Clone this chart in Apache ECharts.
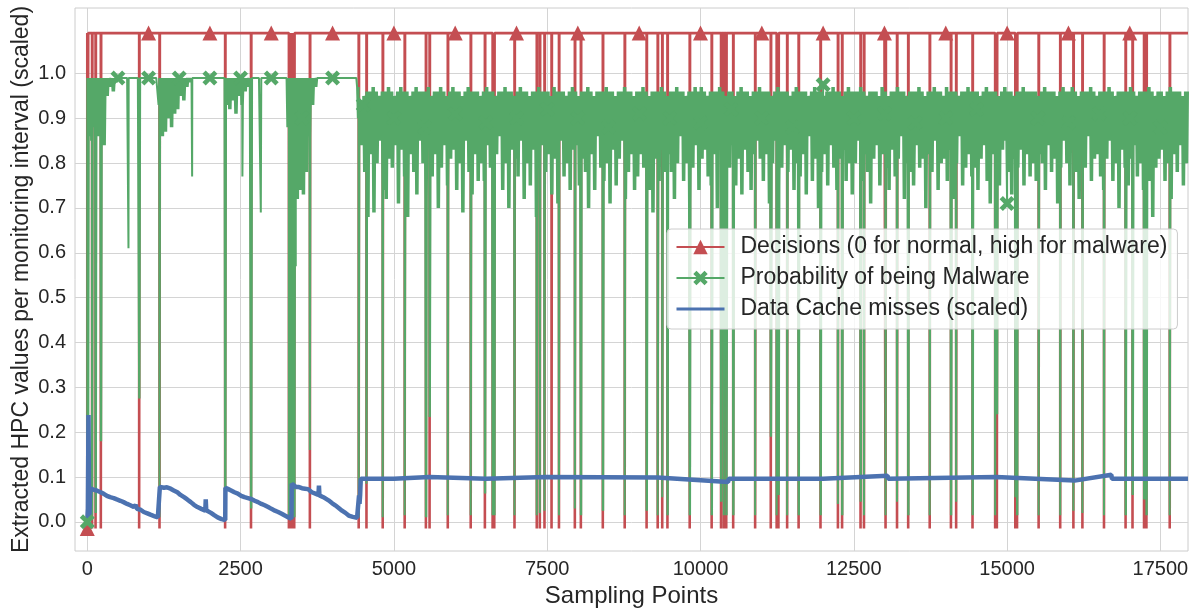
<!DOCTYPE html>
<html>
<head>
<meta charset="utf-8">
<script src="https://cdn.jsdelivr.net/npm/echarts@6/dist/echarts.min.js"></script>
<style>
  html, body { margin: 0; padding: 0; background: #ffffff; }
  #chart { width: 1195px; height: 611px; }
</style>
</head>
<body>
<div id="chart"></div>
<script>
// ---- axis ticks ----
const xTicks = [0, 2500, 5000, 7500, 10000, 12500, 15000, 17500];
const yTicks = [0.0, 0.1, 0.2, 0.3, 0.4, 0.5, 0.6, 0.7, 0.8, 0.9, 1.0];

// ---- decisions: high level, low level, and the sampling ranges flagged as normal ----
const decisionHigh = 1.09;
const decisionLow = -0.015;
const decisionDrops = [
  [0, 16], [78, 84], [135, 141], [221, 227], [846, 852], [1178, 1184], [2248, 2254], [2670, 2676],
  [3288, 3294], [3316, 3320], [3331, 3337], [3352, 3356], [3375, 3381], [3630, 3636], [4426, 4432],
  [4553, 4559], [4818, 4824], [5176, 5182], [5522, 5528], [5582, 5588], [5879, 5885], [6253, 6259],
  [6484, 6490], [6610, 6616], [6637, 6643], [6967, 6973], [7330, 7336], [7380, 7386], [7456, 7462],
  [7571, 7577], [7692, 7698], [7951, 7957], [8049, 8055], [8407, 8413], [8764, 8770], [9121, 9127],
  [9302, 9308], [9376, 9382], [9461, 9467], [9824, 9830], [10182, 10188], [10335, 10341], [10380, 10386],
  [10420, 10426], [10533, 10539], [10891, 10897], [11146, 11152], [11242, 11248], [11271, 11277],
  [11413, 11419], [11600, 11606], [11957, 11963], [12241, 12247], [12309, 12315], [12610, 12616],
  [12666, 12672], [13018, 13024], [13205, 13211], [13387, 13393], [13738, 13744], [14084, 14090],
  [14169, 14175], [14436, 14442], [14805, 14811], [14833, 14839], [15134, 15140], [15162, 15168],
  [15514, 15520], [15866, 15872], [16081, 16087], [16228, 16234], [16580, 16586], [16932, 16938],
  [17045, 17051], [17233, 17239], [17272, 17278], [17652, 17658]
];
// malware probability at the bottom of each flagged range (null: no dip drawn)
const probAtDrop = [
  0.0, 0.015, 0.02, 0.18, 0.275, 0.01, 0.01, 0.03,
  0.01, 0.02, 0.01, 0.02, 0.01, 0.16, 0.01,
  0.085, 0.01, 0.015, 0.01, 0.234, 0.015, 0.015,
  0.063, 0.015, 0.015, 0.015, 0.015, 0.02, 0.025,
  null, 0.015, 0.03, 0.015, 0.025, 0.015, 0.025,
  0.015, 0.055, 0.015, 0.015, 0.015, 0.045, 0.015,
  0.015, 0.015, 0.015, 0.19, 0.015, 0.06,
  0.015, 0.015, 0.015, 0.04, 0.015, 0.045,
  0.015, 0.015, 0.045, 0.015, 0.015, 0.015,
  0.045, 0.015, 0.015, 0.24, 0.055, 0.015,
  0.015, 0.015, 0.025, 0.02, 0.015, 0.015,
  0.06, 0.05, 0.015, 0.015
];
const decisionMarks = [
  [0, -0.015], [1000, 1.09], [2000, 1.09], [3000, 1.09], [4000, 1.09], [5000, 1.09], [6000, 1.09],
  [7000, 1.09], [8000, 1.09], [9000, 1.09], [10000, 1.09], [11000, 1.09], [12000, 1.09],
  [13000, 1.09], [14000, 1.09], [15000, 1.09], [16000, 1.09], [17000, 1.09]
];
const lastSample = 17950;

// ---- malware probability: upper / lower extent per block of 50 samples ----
const probBlock = 50;
const probHigh = [
  // 0 - 4450
  .99,.99,.99,.99,.99,.99,.99,.99,.99,.99, .99,.99,.99,.99,.99,.99,.99,.99,.99,.99,
  .99,.99,.99,.99,.99,.99,.99,.99,.99,.99, .99,.99,.99,.99,.99,.99,.99,.99,.99,.99,
  .99,.99,.99,.99,.99,.99,.99,.99,.99,.99, .99,.99,.99,.99,.99,.99,.99,.99,.99,.99,
  .99,.99,.99,.99,.99,.99,.99,.99,.99,.99, .99,.99,.99,.99,.99,.99,.99,.99,.99,.99,
  .99,.99,.99,.99,.99,.99,.99,.99,.97,
  // 4450 - 17950
  .94,.95,.96,.96,.97,.96,.95,.96,.96,.97, .96,.95,.96,.97,.96,.96,.95,.96,.97,.96,
  .96,.96,.97,.95,.96,.96,.97,.96,.95,.96, .97,.96,.96,.95,.96,.97,.96,.96,.96,.95,
  .96,.97,.96,.96,.95,.96,.96,.97,.96,.96, .95,.96,.97,.96,.96,.95,.96,.96,.97,.96,
  .96,.96,.95,.97,.96,.96,.96,.95,.96,.97, .96,.95,.96,.96,.97,.96,.95,.96,.96,.96,
  .97,.96,.96,.95,.96,.96,.97,.96,.96,.95, .96,.96,.97,.96,.95,.96,.96,.96,.97,.96,
  .95,.96,.96,.97,.96,.96,.95,.96,.96,.97, .96,.97,.96,.95,.96,.96,.96,.97,.96,.95,
  .96,.96,.95,.96,.97,.96,.96,.95,.96,.96, .97,.96,.96,.96,.95,.96,.97,.96,.96,.96,
  .95,.96,.97,.96,.96,.96,.95,.96,.97,.96, .96,.95,.96,.96,.97,.96,.96,.95,.96,.97,
  .96,.96,.96,.97,.96,.95,.96,.96,.96,.95, .97,.96,.95,.96,.96,.97,.96,.96,.95,.96,
  .96,.96,.97,.96,.95,.96,.96,.97,.96,.96, .95,.97,.96,.96,.96,.95,.96,.96,.97,.96,
  .96,.96,.95,.96,.97,.96,.96,.96,.95,.96, .97,.96,.96,.95,.96,.96,.97,.96,.96,.96,
  .96,.95,.96,.97,.96,.96,.96,.95,.96,.97, .96,.96,.97,.96,.95,.96,.96,.96,.97,.96,
  .95,.96,.96,.96,.97,.96,.95,.96,.96,.96, .96,.97,.96,.95,.96,.96,.96,.97,.96,.95,
  .96,.96,.95,.96,.97,.96,.96,.96,.95,.96
];
const probLow = [
  // 0 - 4450
  .86,.85,.88,.86,.90,.84,.95,.97,.96,.98, .99,.99,.99,.99,.99,.99,.99,.99,.99,.99,
  .99,.99,.99,.93,.86,.87,.90,.88,.91,.92, .95,.94,.97,.98,.99,.99,.99,.99,.99,.99,
  .99,.99,.99,.99,.99,.93,.92,.94,.91,.95, .93,.96,.97,.99,.99,.99,.99,.99,.99,.99,
  .99,.99,.99,.99,.99,.88,.80,.76,.72,.74, .73,.78,.86,.93,.97,.99,.99,.99,.99,.99,
  .99,.99,.99,.99,.99,.99,.99,.99,.90,
  // 4450 - 17950
  .84,.78,.70,.82,.69,.80,.85,.74,.72,.81, .79,.84,.71,.83,.77,.68,.82,.78,.73,.85,
  .80,.72,.85,.77,.82,.70,.79,.84,.75,.81, .83,.74,.80,.69,.85,.78,.73,.82,.76,.80,
  .76,.84,.79,.71,.82,.86,.74,.80,.70,.83, .81,.77,.85,.72,.80,.75,.83,.68,.79,.84,
  .78,.82,.73,.81,.71,.85,.77,.80,.74,.83, .84,.75,.81,.78,.70,.82,.74,.86,.79,.76,
  .80,.71,.83,.75,.81,.85,.72,.78,.82,.74, .77,.82,.79,.84,.74,.69,.81,.76,.83,.78,
  .82,.78,.72,.80,.86,.76,.80,.71,.79,.84, .74,.81,.83,.77,.75,.82,.70,.85,.77,.80,
  .79,.84,.75,.81,.73,.83,.78,.74,.82,.85, .81,.76,.82,.71,.80,.85,.75,.79,.84,.78,
  .83,.74,.80,.77,.82,.73,.86,.76,.81,.70, .78,.82,.75,.84,.79,.74,.81,.83,.76,.80,
  .73,.80,.85,.76,.82,.78,.71,.81,.84,.75, .82,.79,.74,.83,.77,.81,.86,.72,.80,.78,
  .75,.84,.79,.81,.70,.82,.78,.85,.74,.80, .81,.76,.83,.72,.80,.86,.75,.79,.82,.77,
  .79,.74,.81,.84,.76,.71,.82,.80,.75,.83, .85,.78,.73,.81,.79,.83,.75,.82,.77,.80,
  .76,.82,.80,.74,.84,.78,.81,.71,.79,.85, .80,.75,.83,.78,.72,.82,.79,.86,.76,.81,
  .82,.77,.74,.81,.85,.76,.80,.70,.83,.79, .75,.81,.84,.77,.80,.74,.82,.76,.68,.79,
  .81,.83,.76,.80,.72,.82,.78,.84,.75,.80
];
// isolated dips of the probability that stay above the decision threshold
const probSpikes = [[672, 0.61], [1710, 0.77], [2530, 0.77], [2830, 0.69], [3400, 0.57], [4590, 0.68]];
// probability values where markers are drawn (every 500 samples)
const probMarks = [
  [0, 0.0], [500, 0.99], [1000, 0.99], [1500, 0.99], [2000, 0.99], [2500, 0.99], [3000, 0.99],
  [3500, 0.90], [4000, 0.99], [4500, 0.93], [5000, 0.90], [5500, 0.88], [6000, 0.91], [6500, 0.89],
  [7000, 0.90], [7500, 0.92], [8000, 0.90], [8500, 0.88], [9000, 0.91], [9500, 0.90], [10000, 0.89],
  [10500, 0.92], [11000, 0.90], [11500, 0.88], [12000, 0.975], [12500, 0.90], [13000, 0.91],
  [13500, 0.89], [14000, 0.90], [14500, 0.92], [15000, 0.71], [15500, 0.90], [16000, 0.89],
  [16500, 0.91], [17000, 0.90], [17500, 0.88]
];

// ---- data cache misses (scaled) ----
const cacheMisses = [
  [0, 0.003], [10, 0.03], [20, 0.238], [28, 0.06], [35, 0.01], [45, 0.065], [60, 0.074], [100, 0.072],
  [153, 0.07], [200, 0.067], [263, 0.063], [320, 0.058], [373, 0.055], [430, 0.053], [482, 0.05],
  [540, 0.047], [592, 0.044], [650, 0.04], [701, 0.037], [760, 0.033], [790, 0.038], [811, 0.029],
  [870, 0.027], [921, 0.022], [980, 0.019], [1030, 0.016], [1090, 0.013], [1151, 0.01], [1180, 0.009],
  [1184, 0.078], [1250, 0.076], [1300, 0.077], [1359, 0.074], [1410, 0.07], [1469, 0.066], [1520, 0.06],
  [1578, 0.055], [1630, 0.05], [1688, 0.044], [1740, 0.038], [1797, 0.033], [1860, 0.029], [1925, 0.025],
  [1932, 0.05], [1940, 0.026], [2017, 0.02], [2070, 0.015], [2126, 0.01], [2190, 0.006], [2250, 0.004],
  [2253, 0.076], [2300, 0.073], [2345, 0.07], [2400, 0.066], [2455, 0.063], [2510, 0.058], [2565, 0.055],
  [2620, 0.053], [2674, 0.051], [2730, 0.047], [2784, 0.044], [2840, 0.04], [2893, 0.037], [2950, 0.033],
  [3003, 0.029], [3060, 0.025], [3113, 0.022], [3170, 0.018], [3222, 0.014], [3280, 0.01], [3330, 0.007],
  [3335, 0.085], [3360, 0.082], [3400, 0.078], [3441, 0.078], [3500, 0.075], [3551, 0.074], [3600, 0.073],
  [3661, 0.066], [3720, 0.063], [3770, 0.06], [3778, 0.081], [3786, 0.059], [3850, 0.055], [3934, 0.048],
  [3990, 0.042], [4044, 0.037], [4100, 0.031], [4154, 0.025], [4210, 0.02], [4263, 0.014], [4330, 0.011],
  [4400, 0.009], [4425, 0.007], [4432, 0.059], [4440, 0.04], [4450, 0.06], [4460, 0.096],
  [5000, 0.096], [5580, 0.1], [5590, 0.096], [6500, 0.096], [7480, 0.1], [7490, 0.096], [9300, 0.099],
  [9310, 0.096], [10450, 0.089], [10460, 0.096], [12000, 0.096], [13050, 0.103], [13060, 0.096],
  [14820, 0.1], [14830, 0.096], [16100, 0.092], [16110, 0.096], [16700, 0.105], [16710, 0.096],
  [17950, 0.096]
];

// ---- build line data from the arrays above ----
function toSeriesData(points, markSize) {
  points.sort((a, b) => (a.x - b.x) || (a.o - b.o));
  return points.map(p => p.mark ? { value: [p.x, p.y], symbolSize: markSize } : [p.x, p.y]);
}

const decisionPts = [];
decisionDrops.forEach(([s, e]) => {
  decisionPts.push({ x: s, y: decisionHigh, o: 1 }, { x: s, y: decisionLow, o: 1 },
                   { x: e, y: decisionLow, o: 1 }, { x: e, y: decisionHigh, o: 1 });
});
decisionMarks.forEach(([x, y]) => decisionPts.push({ x, y, o: 0, mark: true }));
decisionPts.push({ x: lastSample, y: decisionHigh, o: 1 });

// each block swings between its upper and lower extent, as the dense trace does
const probPts = [];
const q = probBlock / 4;
probHigh.forEach((h, i) => {
  const x0 = i * probBlock;
  probPts.push({ x: x0, y: h, o: 2 }, { x: x0 + q, y: probLow[i], o: 2 },
               { x: x0 + 2 * q, y: h, o: 2 }, { x: x0 + 3 * q, y: probLow[i], o: 2 });
});
probPts.push({ x: lastSample, y: probHigh[probHigh.length - 1], o: 2 });
decisionDrops.forEach(([s, e], i) => {
  if (probAtDrop[i] !== null) {
    probPts.push({ x: s, y: probAtDrop[i], o: 1 }, { x: e, y: probAtDrop[i], o: 1 });
  }
});
probSpikes.forEach(([x, y]) => probPts.push({ x, y, o: 1 }));
probMarks.forEach(([x, y]) => probPts.push({ x, y, o: 0, mark: true }));

const RED = '#C44E52', GREEN = '#55A868', BLUE = '#4C72B0';
const TEXT = '#262626';
const FONT = '"Liberation Sans", Arial, Helvetica, sans-serif';
const X_MARK = 'path://M2.2,0L5,2.8L7.8,0L10,2.2L7.2,5L10,7.8L7.8,10L5,7.2L2.2,10L0,7.8L2.8,5L0,2.2Z';

const chart = echarts.init(document.getElementById('chart'));
chart.setOption({
  animation: false,
  backgroundColor: '#ffffff',
  textStyle: { fontFamily: FONT },
  grid: {
    left: 75, right: 7, top: 8, bottom: 60,
    show: true, borderColor: '#cccccc', borderWidth: 1, backgroundColor: '#ffffff',
    containLabel: false, outerBoundsMode: 'none'
  },
  xAxis: {
    type: 'value', min: -200, max: 17950,
    name: 'Sampling Points', nameLocation: 'middle', nameGap: 33, nameMoveOverlap: false,
    nameTextStyle: { fontSize: 24, color: TEXT, fontFamily: FONT },
    axisLine: { show: false },
    axisTick: { show: false, customValues: xTicks },
    axisLabel: { customValues: xTicks, fontSize: 20, color: TEXT, margin: 8, fontFamily: FONT,
                 formatter: v => String(v) },
    splitLine: { show: true, lineStyle: { color: '#d4d4d4', width: 1 } }
  },
  yAxis: {
    type: 'value', min: -0.065, max: 1.146,
    name: 'Extracted HPC values per monitoring interval (scaled)', nameLocation: 'middle', nameGap: 42,
    nameRotate: 90, nameMoveOverlap: false,
    nameTextStyle: { fontSize: 23, color: TEXT, fontFamily: FONT },
    axisLine: { show: false },
    axisTick: { show: false, customValues: yTicks },
    axisLabel: { customValues: yTicks, fontSize: 20, color: TEXT, margin: 9, fontFamily: FONT,
                 formatter: v => v.toFixed(1) },
    splitLine: { show: true, lineStyle: { color: '#d4d4d4', width: 1 } }
  },
  legend: {
    orient: 'vertical', left: 667, top: 229,
    itemWidth: 48, itemHeight: 18, itemGap: 5,
    padding: [5, 10, 7, 8],
    backgroundColor: 'rgba(255,255,255,0.8)', borderColor: '#cccccc', borderWidth: 1, borderRadius: 4,
    textStyle: { fontSize: 23, color: TEXT, fontFamily: FONT, lineHeight: 26, padding: [0, 0, 0, 11] },
    data: [
      { name: 'Decisions (0 for normal, high for malware)' },
      { name: 'Probability of being Malware' },
      { name: 'Data Cache misses (scaled)', itemStyle: { color: 'rgba(0,0,0,0)', borderWidth: 0 },
        lineStyle: { width: 3 } }
    ]
  },
  series: [
    {
      name: 'Decisions (0 for normal, high for malware)',
      type: 'line', silent: true,
      data: toSeriesData(decisionPts, 15),
      showSymbol: true, symbol: 'triangle', symbolSize: 0,
      lineStyle: { color: RED, width: 2.6 },
      itemStyle: { color: RED },
      emphasis: { disabled: true }
    },
    {
      name: 'Probability of being Malware',
      type: 'line', silent: true,
      data: toSeriesData(probPts, 15),
      showSymbol: true, symbol: X_MARK, symbolSize: 0,
      lineStyle: { color: GREEN, width: 2, opacity: 1 },
      itemStyle: { color: GREEN },
      emphasis: { disabled: true }
    },
    {
      name: 'Data Cache misses (scaled)',
      type: 'line', silent: true,
      data: cacheMisses,
      showSymbol: false, symbol: 'none',
      lineStyle: { color: BLUE, width: 4.5 },
      itemStyle: { color: BLUE },
      emphasis: { disabled: true }
    }
  ]
});
</script>
</body>
</html>
